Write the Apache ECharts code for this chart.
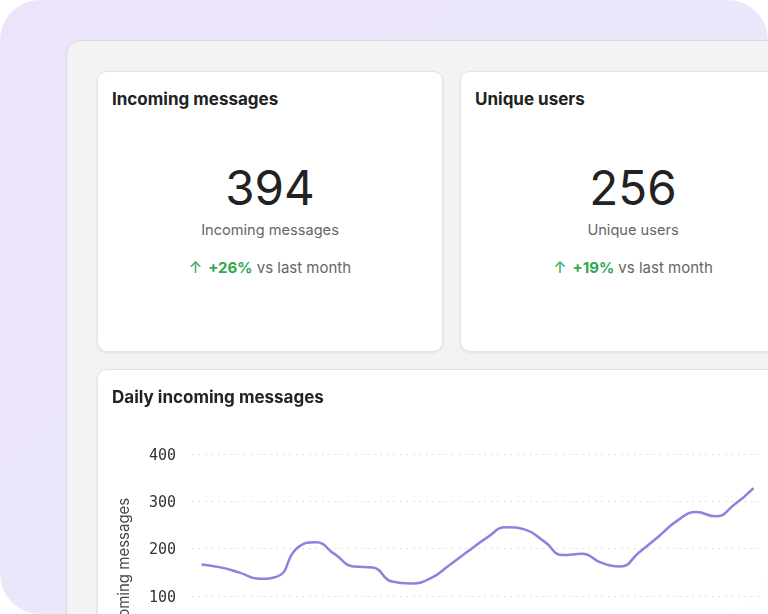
<!DOCTYPE html>
<html>
<head>
<meta charset="utf-8">
<script src="https://cdn.jsdelivr.net/npm/echarts@6/dist/echarts.min.js"></script>
<style>
  html, body { margin: 0; padding: 0; background: #fff; }
  #frame {
    position: absolute; left: 0; top: 0; width: 768px; height: 614px;
    border-radius: 40px; overflow: hidden;
    background: linear-gradient(135deg, #ebe4fb 0%, #ede8fa 100%);
    font-family: Inter, "Noto Sans", sans-serif;
  }
  #panel {
    position: absolute; left: 66px; top: 40px; width: 760px; height: 640px;
    background: #f3f3f5; border: 1px solid #d9d9de; border-radius: 14px;
  }
  .card {
    position: absolute; background: #fff; border: 1px solid #e4e4e8;
    border-radius: 10px; box-shadow: 0 1px 3px rgba(0,0,0,0.08);
  }
  .title { position: absolute; left: 14px; top: 17px; font-size: 17px; line-height: 20px; font-weight: 700; color: #222; }
  .big { position: absolute; left: 0; width: 100%; text-align: center; top: 88px; font-size: 47.5px; line-height: 56px; color: #222; }
  .sub { position: absolute; left: 0; width: 100%; text-align: center; top: 148px; font-size: 14.6px; line-height: 20px; color: #666; }
  .chg { position: absolute; left: 0; width: 100%; text-align: center; top: 185px; font-size: 15px; line-height: 20px; color: #666; }
  .chg b { color: #2fa84f; font-weight: 700; }
  .chg .arr { color: #2fa84f; margin-right: 6px; font-size: 16px; }
  #chart { position: absolute; left: 0; top: 0; width: 709px; height: 300px; }
</style>
</head>
<body>
<div id="frame">
  <div id="panel"></div>
  <div class="card" style="left:97px; top:71px; width:344px; height:279px;">
    <div class="title">Incoming messages</div>
    <div class="big">394</div>
    <div class="sub">Incoming messages</div>
    <div class="chg"><span class="arr">↑</span><b>+26%</b> vs last month</div>
  </div>
  <div class="card" style="left:460px; top:71px; width:344px; height:279px;">
    <div class="title">Unique users</div>
    <div class="big">256</div>
    <div class="sub">Unique users</div>
    <div class="chg"><span class="arr">↑</span><b>+19%</b> vs last month</div>
  </div>
  <div class="card" style="left:97px; top:369px; width:707px; height:300px;">
    <div id="chart"></div>
  </div>
</div>
<script>
const days = ['1', '2', '3', '4', '5', '6', '7', '8', '9', '10',
  '11', '12', '13', '14', '15', '16', '17', '18', '19', '20',
  '21', '22', '23', '24', '25', '26', '27', '28', '29', '30'];
const dailyMessages = [166, 160, 149, 136, 141, 200, 213, 188, 162, 160,
  130, 126, 136, 164, 194, 223, 245, 240, 215, 186,
  189, 170, 162, 192, 225, 259, 277, 268, 293, 328];
const yTicks = [0, 100, 200, 300, 400];

const chart = echarts.init(document.getElementById('chart'));
const option = {
  animation: false,
  title: {
    text: 'Daily incoming messages',
    left: 9,
    top: 14,
    textStyle: { fontFamily: 'Inter', fontSize: 17, fontWeight: 700, color: '#222' }
  },
  grid: { left: 94, top: 84, width: 571, height: 189 },
  xAxis: {
    type: 'category',
    data: days,
    boundaryGap: true,
    axisLine: { show: false },
    axisTick: { show: false },
    axisLabel: { fontFamily: 'DejaVu Sans Mono', fontSize: 14, color: '#333' }
  },
  yAxis: {
    type: 'value',
    min: yTicks[0],
    max: yTicks[yTicks.length - 1],
    interval: 100,
    name: 'Incoming messages',
    nameLocation: 'middle',
    nameGap: 60,
    nameTextStyle: { fontFamily: 'Inter', fontSize: 15, color: '#444', padding: [0, 40, 0, 0] },
    axisLine: { show: false },
    axisTick: { show: false },
    axisLabel: {
      margin: 16,
      formatter: '{t|{value}}',
      rich: { t: { fontFamily: 'DejaVu Sans Mono', fontSize: 15, color: '#333', padding: [4, 0, 0, 0] } }
    },
    splitLine: { lineStyle: { color: '#d4d4d4', width: 1.2, type: [1.5, 5] } }
  },
  series: [{
    name: 'Incoming messages',
    type: 'line',
    data: dailyMessages,
    smooth: true,
    showSymbol: false,
    lineStyle: { color: '#8d82dd', width: 2.5 }
  }]
};
chart.setOption(option);
</script>
</body>
</html>
